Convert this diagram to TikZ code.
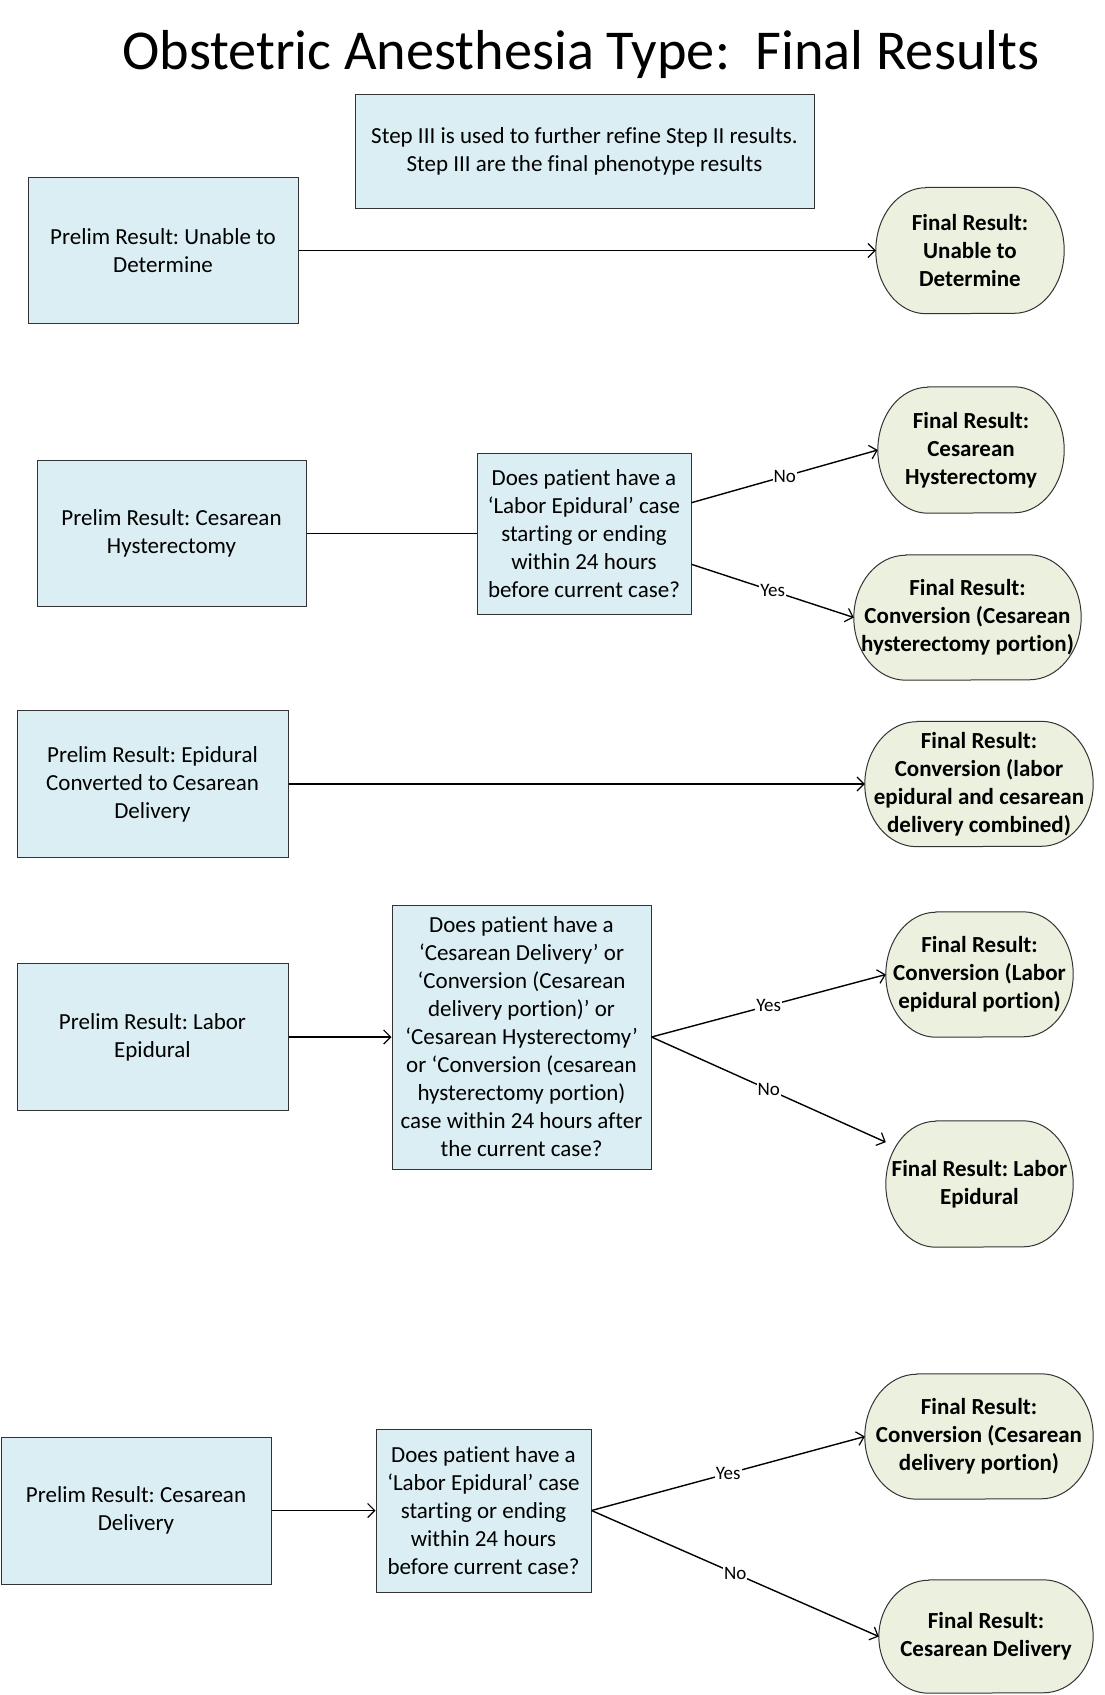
\documentclass[tikz,border=0pt]{standalone}
\usepackage{fontspec}
\setmainfont[Ligatures={NoCommon}]{Carlito}
\frenchspacing
\usetikzlibrary{arrows.meta,calc,backgrounds}
\definecolor{boxfill}{HTML}{DAEEF3}
\definecolor{ovfill}{HTML}{EBF1DE}
\tikzset{
  prelim/.style={draw=black!80, line width=1pt, fill=boxfill, inner sep=0pt, align=center,
    font=\fontsize{23}{28}\selectfont\frenchspacing},
  final/.style={inner sep=0pt, align=center, font=\fontsize{23}{28}\selectfont\bfseries\frenchspacing},
  conn/.style={line width=1.4pt, draw=black},
  arr/.style={conn, -{Straight Barb[length=7pt,width=14pt,line width=1.2pt]}},
  lab/.style={fill=white, inner sep=1pt, font=\fontsize{19}{21}\selectfont, pos=0.5},
}
\newcommand\termshape[3]{%
  \begin{scope}[on background layer]
  \draw[draw=black!80, line width=1pt, fill=ovfill]
    ($(#1.north west)+(#2,0)$) -- ($(#1.north east)+(-#2,0)$)
    arc[start angle=90,end angle=-90,x radius=#2pt,y radius=#3pt]
    -- ($(#1.south west)+(#2,0)$)
    arc[start angle=270,end angle=90,x radius=#2pt,y radius=#3pt] -- cycle;
  \end{scope}}
\begin{document}
\begin{tikzpicture}[x=1pt,y=1pt]
\useasboundingbox (0,0) rectangle (1104,-1695);

\node (title) at (581,-54) {\fontsize{56.3}{60}\selectfont Obstetric Anesthesia Type:\ \ Final Results};

\node[prelim, minimum width=459, minimum height=114] (step) at (584.5,-151)
  {Step III is used to further refine Step II results.\\Step III are the final phenotype results};

% Row 1
\node[prelim, minimum width=270, minimum height=146] (b1) at (163,-250.5)
  {Prelim Result: Unable to\\Determine};
\node[final, minimum width=188, minimum height=126] (o1) at (970,-250.5)
  {Final Result:\\Unable to\\Determine};
\termshape{o1}{50}{63}

% Row 2
\node[prelim, minimum width=269, minimum height=146] (b2) at (171.5,-533.5)
  {Prelim Result: Cesarean\\Hysterectomy};
\node[prelim, minimum width=214, minimum height=161] (d2) at (584,-533.5)
  {Does patient have a\\‘Labor Epidural’ case\\starting or ending\\within 24 hours\\before current case?};
\node[final, minimum width=186, minimum height=126] (o2a) at (971,-450)
  {Final Result:\\Cesarean\\Hysterectomy};
\termshape{o2a}{50}{63}
\node[final, minimum width=227, minimum height=125] (o2b) at (967.5,-617.5)
  {Final Result:\\Conversion (Cesarean\\hysterectomy portion)};
\termshape{o2b}{52}{62.5}

% Row 3
\node[prelim, minimum width=271, minimum height=147] (b3) at (152.5,-784)
  {Prelim Result: Epidural\\Converted to Cesarean\\Delivery};
\node[final, minimum width=228, minimum height=125] (o3) at (979,-784)
  {Final Result:\\Conversion (labor\\epidural and cesarean\\delivery combined)};
\termshape{o3}{52}{62.5}

% Row 4
\node[prelim, minimum width=271, minimum height=147] (b4) at (152.5,-1037)
  {Prelim Result: Labor\\Epidural};
\node[prelim, minimum width=259, minimum height=264] (d4) at (521.5,-1037)
  {Does patient have a\\‘Cesarean Delivery’ or\\‘Conversion (Cesarean\\delivery portion)’ or\\‘Cesarean Hysterectomy’\\or ‘Conversion (cesarean\\hysterectomy portion)\\case within 24 hours after\\the current case?};
\node[final, minimum width=187, minimum height=125] (o4a) at (979.5,-974.5)
  {Final Result:\\Conversion (Labor\\epidural portion)};
\termshape{o4a}{50}{62.5}
\node[final, minimum width=187, minimum height=126] (o4b) at (979.5,-1184)
  {Final Result: Labor\\Epidural};
\termshape{o4b}{50}{63}

% Row 5
\node[prelim, minimum width=270, minimum height=147] (b5) at (136,-1510.5)
  {Prelim Result: Cesarean\\Delivery};
\node[prelim, minimum width=215, minimum height=163] (d5) at (483.5,-1510.5)
  {Does patient have a\\‘Labor Epidural’ case\\starting or ending\\within 24 hours\\before current case?};
\node[final, minimum width=228, minimum height=125] (o5a) at (979,-1436.5)
  {Final Result:\\Conversion (Cesarean\\delivery portion)};
\termshape{o5a}{52}{62.5}
\node[final, minimum width=214, minimum height=113] (o5b) at (986,-1636.5)
  {Final Result:\\Cesarean Delivery};
\termshape{o5b}{50}{56.5}

% Connectors
\draw[arr] (b1) -- (o1);
\draw[conn] (b2) -- (d2);
\draw[arr] (d2.16) -- node[lab]{No} (o2a.west);
\draw[arr] (d2.-16) -- node[lab]{Yes} (o2b.west);
\draw[arr] (b3) -- (o3);
\draw[arr] (b4) -- (d4);
\draw[arr] (d4.east) -- node[lab]{Yes} (o4a.west);
\draw[arr] (d4.east) -- node[lab]{No} (o4b);
\draw[arr] (b5) -- (d5);
\draw[arr] (d5.east) -- node[lab]{Yes} (o5a.west);
\draw[arr] (d5.east) -- node[lab]{No} (o5b.west);
\end{tikzpicture}
\end{document}
